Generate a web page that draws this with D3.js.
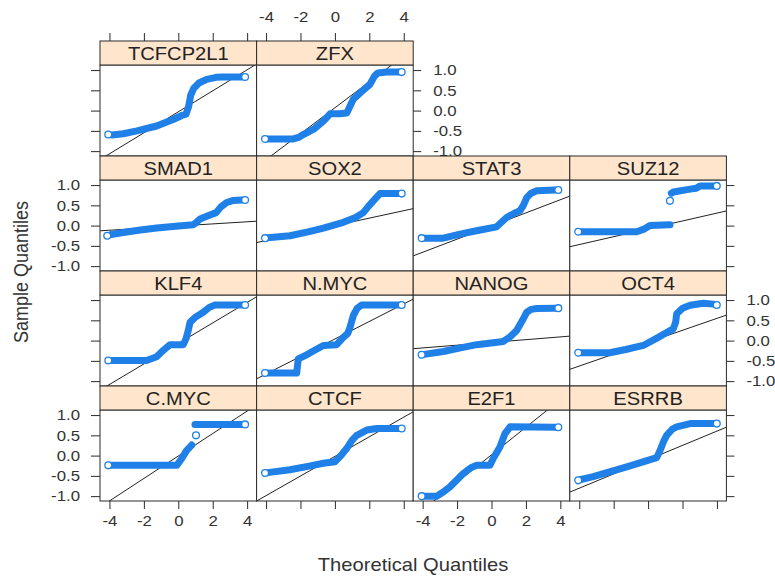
<!DOCTYPE html>
<html>
<head>
<meta charset="utf-8">
<script src="https://cdn.jsdelivr.net/npm/d3@7"></script>
<style>
  body { margin: 0; background: #fff; }
  svg text { font-family: "Liberation Sans", Arial, sans-serif; }
</style>
</head>
<body>
<svg id="chart" width="775" height="579"></svg>
<script>
// panels in lattice order (top row first)
const panelNames = ["TCFCP2L1", "ZFX",
  "SMAD1", "SOX2", "STAT3", "SUZ12",
  "KLF4", "N.MYC", "NANOG", "OCT4",
  "C.MYC", "CTCF", "E2F1", "ESRRB"];

// [theoretical quantile, sample quantile]; null breaks the band
const qTCFCP2L1 = [[-4.07,-0.59],[-3.85,-0.60],[-3.2,-0.57],[-2.4,-0.50],[-1.26,-0.38],[-0.3,-0.22],[0.2,-0.12],[0.45,-0.09],[0.6,0.10],[0.72,0.38],[0.9,0.55],[1.2,0.68],[1.65,0.77],[2.2,0.82],[2.6,0.83],[3.7,0.83],[3.88,0.83]];
const qZFX = [[-4.06,-0.70],[-3.9,-0.70],[-2.42,-0.70],[-2.1,-0.66],[-1.84,-0.59],[-1.2,-0.45],[-0.67,-0.26],[-0.28,-0.08],[0.3,-0.08],[0.69,-0.06],[1.07,0.28],[1.5,0.45],[2.04,0.65],[2.3,0.85],[2.5,0.93],[3.0,0.95],[3.7,0.95],[3.88,0.95]];
const qSMAD1 = [[-4.13,-0.25],[-3.9,-0.22],[-3.2,-0.17],[-2.2,-0.11],[-1.26,-0.06],[0,-0.01],[0.87,0.02],[1.0,0.06],[1.26,0.16],[1.84,0.26],[2.2,0.32],[2.45,0.45],[2.81,0.57],[3.2,0.62],[3.7,0.63],[3.88,0.63]];
const qSOX2 = [[-4.06,-0.31],[-3.9,-0.30],[-2.61,-0.25],[-1.5,-0.15],[-0.67,-0.06],[0.49,0.08],[1.2,0.20],[1.65,0.32],[2.0,0.50],[2.23,0.61],[2.62,0.79],[3.7,0.79],[3.88,0.79]];
const qSTAT3 = [[-4.06,-0.31],[-3.9,-0.31],[-2.8,-0.31],[-1.83,-0.21],[-0.8,-0.12],[0.3,-0.03],[0.5,0.05],[0.88,0.20],[1.3,0.30],[1.66,0.37],[1.85,0.50],[2.05,0.69],[2.3,0.80],[2.63,0.86],[3.7,0.88],[3.88,0.88]];
const qSUZ12 = [[-4.06,-0.15],[-3.9,-0.15],[-0.66,-0.15],[-0.2,-0.08],[0.11,0.0],[1.27,0.02],null,[1.27,0.61],null,[1.35,0.80],[1.47,0.83],[2.44,0.90],[2.8,0.92],[3.02,0.98],[3.8,0.98],[3.99,0.98]];
const qKLF4 = [[-4.07,-0.49],[-3.9,-0.49],[-1.84,-0.49],[-1.26,-0.40],[-0.87,-0.24],[-0.48,-0.10],[0.29,-0.10],[0.45,0.05],[0.58,0.25],[0.68,0.45],[1.0,0.58],[1.45,0.70],[1.8,0.82],[2.13,0.88],[3.7,0.88],[3.88,0.88]];
const qNMYC = [[-4.06,-0.80],[-3.9,-0.80],[-2.22,-0.80],[-2.13,-0.45],[-1.64,-0.35],[-1.1,-0.22],[-0.67,-0.12],[0.1,-0.10],[0.49,0.08],[0.75,0.18],[0.88,0.33],[1.07,0.62],[1.3,0.80],[1.55,0.88],[3.7,0.88],[3.88,0.88]];
const qNANOG = [[-4.06,-0.35],[-3.9,-0.34],[-2.8,-0.27],[-1.8,-0.18],[-0.86,-0.10],[0.69,-0.02],[1.1,0.10],[1.46,0.25],[1.8,0.50],[2.05,0.70],[2.3,0.77],[2.63,0.79],[3.7,0.80],[3.88,0.80]];
const qOCT4 = [[-4.06,-0.30],[-3.9,-0.30],[-2.22,-0.30],[-1.3,-0.22],[-0.28,-0.12],[0.59,0.08],[1.0,0.18],[1.46,0.29],[1.6,0.45],[1.66,0.66],[2.0,0.80],[2.44,0.87],[3.21,0.92],[3.8,0.90],[3.99,0.88]];
const qCMYC = [[-4.07,-0.24],[-3.9,-0.24],[-0.09,-0.24],[0.2,-0.07],[0.49,0.13],[0.78,0.26],null,[1.03,0.50],null,[0.97,0.77],[3.7,0.77],[3.88,0.77]];
const qCTCF = [[-4.06,-0.43],[-3.9,-0.42],[-2.61,-0.35],[-1.5,-0.26],[-0.67,-0.19],[0,-0.15],[0.35,0.0],[0.69,0.18],[1.0,0.38],[1.27,0.50],[1.85,0.63],[2.43,0.67],[3.7,0.67],[3.88,0.67]];
const qE2F1 = [[-4.06,-1.00],[-3.9,-1.00],[-3.19,-1.00],[-2.8,-0.90],[-2.41,-0.77],[-1.64,-0.44],[-1.2,-0.30],[-0.86,-0.24],[-0.09,-0.24],[0.1,-0.07],[0.49,0.21],[0.78,0.54],[1.08,0.71],[3.7,0.70],[3.88,0.70]];
const qESRRB = [[-4.06,-0.61],[-3.9,-0.59],[-3.19,-0.52],[-1.24,-0.28],[0.5,-0.05],[0.7,0.13],[0.9,0.35],[1.08,0.50],[1.4,0.65],[1.66,0.71],[2.44,0.79],[3.8,0.79],[3.99,0.79]];

const qqData = [qTCFCP2L1, qZFX, qSMAD1, qSOX2, qSTAT3, qSUZ12,
  qKLF4, qNMYC, qNANOG, qOCT4, qCMYC, qCTCF, qE2F1, qESRRB];

// qqline per panel
const refIntercept = [-0.03, 0.07, -0.01, 0.0, -0.01, -0.08, -0.07, 0.04, -0.045, -0.04, -0.01, -0.02, 0.02, -0.10];
const refSlope = [0.259, 0.32, 0.026, 0.092, 0.162, 0.097, 0.253, 0.216, 0.034, 0.147, 0.277, 0.242, 0.34, 0.176];

const xTicks = [-4, -2, 0, 2, 4];
const xTickLabels = ["-4", "-2", "0", "2", "4"];
const yTicks = [-1, -0.5, 0, 0.5, 1];
const yTickLabels = ["-1.0", "-0.5", "0.0", "0.5", "1.0"];

const blue = "#1f80e8";
const frame = "#2a2a2a";
const textCol = "#333";
const stretch = 1.12;

const gridLeft = 100, colW = 156.6;
const rowTop0 = 41, pitch = 115, stripH = 24.2;
const panelH = pitch - stripH;

const svg = d3.select("#chart");
svg.append("rect").attr("width", 775).attr("height", 579).attr("fill", "#fff");

const x = d3.scaleLinear().domain([-4.55, 4.55]).range([0, colW]);
const y = d3.scaleLinear().domain([-1.12, 1.12]).range([panelH, 0]);

const layoutRow = (i) => i < 2 ? 0 : 1 + Math.floor((i - 2) / 4);
const layoutCol = (i) => i < 2 ? i : (i - 2) % 4;

const band = d3.line()
    .defined((d) => d != null)
    .x((d) => x(d[0]))
    .y((d) => y(d[1]));

const styleAxis = (g, offset) => {
    g.select(".domain").remove();
    g.selectAll("line").attr("stroke", frame).attr("stroke-width", 1);
    g.selectAll("text")
        .attr("fill", textCol)
        .style("font-size", "15px")
        .attr("transform", function () {
            const t = d3.select(this);
            if (offset != null) {
                t.attr("x", 0);
                return `translate(${offset},0) scale(${stretch},1)`;
            }
            return `scale(${stretch},1)`;
        });
};

panelNames.forEach((name, i) => {
    const r = layoutRow(i), c = layoutCol(i);
    const g = svg.append("g")
        .attr("transform", `translate(${gridLeft + c * colW},${rowTop0 + r * pitch})`);

    // strip
    g.append("rect")
        .attr("width", colW).attr("height", stripH)
        .attr("fill", "#ffe5cc").attr("stroke", frame).attr("stroke-width", 1);
    g.append("text")
        .attr("transform", `translate(${colW / 2},${stripH / 2 + 6.5}) scale(${stretch},1)`)
        .attr("text-anchor", "middle")
        .style("font-size", "18px")
        .attr("fill", "#222")
        .text(name);

    const p = g.append("g").attr("transform", `translate(0,${stripH})`);
    p.append("clipPath").attr("id", "clip" + i)
        .append("rect").attr("width", colW).attr("height", panelH);
    p.append("rect")
        .attr("width", colW).attr("height", panelH)
        .attr("fill", "#fff");

    const inner = p.append("g").attr("clip-path", `url(#clip${i})`);

    // reference line
    const x0 = x.domain()[0], x1 = x.domain()[1];
    inner.append("line")
        .attr("x1", x(x0)).attr("y1", y(refIntercept[i] + refSlope[i] * x0))
        .attr("x2", x(x1)).attr("y2", y(refIntercept[i] + refSlope[i] * x1))
        .attr("stroke", "#222").attr("stroke-width", 1);

    // dense band of points: the extreme two are drawn as single circles
    const pts = qqData[i];
    const first = pts[0], last = pts[pts.length - 1];
    const body = pts.slice(1, pts.length - 1);

    const segs = [];
    let cur = [];
    body.forEach((d) => {
        if (d == null) { if (cur.length) segs.push(cur); cur = []; }
        else cur.push(d);
    });
    if (cur.length) segs.push(cur);

    segs.forEach((s) => {
        if (s.length > 1) {
            inner.append("path")
                .attr("d", band(s))
                .attr("fill", "none")
                .attr("stroke", blue)
                .attr("stroke-width", 7)
                .attr("stroke-linejoin", "round")
                .attr("stroke-linecap", "round");
        }
    });

    const singles = segs.filter((s) => s.length === 1).map((s) => s[0]);
    inner.selectAll("circle.pt")
        .data([first, last].concat(singles))
        .join("circle")
        .attr("class", "pt")
        .attr("cx", (d) => x(d[0]))
        .attr("cy", (d) => y(d[1]))
        .attr("r", 3.4)
        .attr("fill", "#fff")
        .attr("stroke", blue)
        .attr("stroke-width", 1.3);

    p.append("rect")
        .attr("width", colW).attr("height", panelH)
        .attr("fill", "none").attr("stroke", frame).attr("stroke-width", 1);

    // axes, lattice alternating style
    if (r === 0) {
        const ax = d3.axisTop(x).tickValues(xTicks).tickSize(8).tickPadding(11)
            .tickFormat((d, k) => c === 1 ? xTickLabels[k] : "");
        g.append("g").call(ax).call((a) => styleAxis(a, null));
    }
    if (r === 3) {
        const ax = d3.axisBottom(x).tickValues(xTicks).tickSize(8).tickPadding(6)
            .tickFormat((d, k) => (c === 0 || c === 2) ? xTickLabels[k] : "");
        p.append("g").attr("transform", `translate(0,${panelH})`)
            .call(ax).call((a) => styleAxis(a, null));
    }
    if (c === 0) {
        const ax = d3.axisLeft(y).tickValues(yTicks).tickSize(9)
            .tickFormat((d, k) => (r === 1 || r === 3) ? yTickLabels[k] : "");
        p.append("g").call(ax).call((a) => styleAxis(a, -20));
    }
    const rightmost = (r === 0 && c === 1) || (r > 0 && c === 3);
    if (rightmost) {
        const ax = d3.axisRight(y).tickValues(yTicks).tickSize(8)
            .tickFormat((d, k) => (r === 0 || r === 2) ? yTickLabels[k] : "");
        p.append("g").attr("transform", `translate(${colW},0)`)
            .call(ax).call((a) => styleAxis(a, 20));
    }
});

// axis titles
svg.append("text")
    .attr("transform", `translate(413,571) scale(${stretch},1)`)
    .attr("text-anchor", "middle")
    .style("font-size", "18px")
    .attr("fill", textCol)
    .text("Theoretical Quantiles");

svg.append("text")
    .attr("transform", `translate(28,272) scale(${stretch},1) rotate(-90)`)
    .attr("text-anchor", "middle")
    .style("font-size", "18px")
    .attr("fill", textCol)
    .text("Sample Quantiles");
</script>
</body>
</html>
